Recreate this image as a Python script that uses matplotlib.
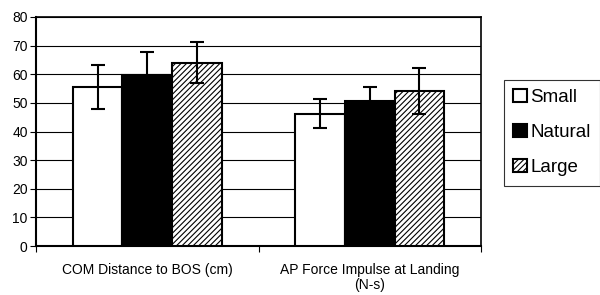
import numpy as np
import matplotlib.pyplot as plt

plt.rcParams['font.family'] = ['Liberation Sans', 'DejaVu Sans']

# data
categories = ['COM Distance to BOS (cm)', 'AP Force Impulse at Landing\n(N-s)']
series = ['Small', 'Natural', 'Large']
means = {
    'Small': [55.6, 46.2],
    'Natural': [59.6, 50.6],
    'Large': [64.1, 54.1],
}
errors = {
    'Small': [7.8, 5.1],
    'Natural': [8.2, 5.0],
    'Large': [7.2, 8.1],
}
yticks = [0, 10, 20, 30, 40, 50, 60, 70, 80]

fig = plt.figure(figsize=(6.0, 2.95), dpi=100)
ax = fig.add_axes([36 / 600, 1 - 246 / 295, 445 / 600, 229 / 295])

styles = {
    'Small': dict(color='white', hatch=None),
    'Natural': dict(color='black', hatch=None),
    'Large': dict(color='white', hatch='//////'),
}

x = np.arange(len(categories))
width = 0.223
plt.rcParams['hatch.linewidth'] = 0.8
for i, name in enumerate(series):
    pos = x + (i - 1) * width
    ax.bar(pos, means[name], width, color=styles[name]['color'],
           hatch=styles[name]['hatch'], edgecolor='black', linewidth=1.5,
           label=name, zorder=3)
    ax.errorbar(pos, means[name], yerr=errors[name], fmt='none',
                ecolor='black', elinewidth=1.5, capsize=5, capthick=1.5,
                zorder=4)

ax.set_xlim(-0.5, 1.5)
ax.set_ylim(0, 80)
ax.set_yticks(yticks)
ax.yaxis.grid(True, color='black', linewidth=0.8, zorder=0)
ax.set_axisbelow(True)

# category labels, ticks at the boundaries
ax.set_xticks([-0.5, 0.5, 1.5])
ax.set_xticklabels([])
ax.set_xticks(x, minor=True)
ax.set_xticklabels(categories, minor=True, fontsize=10, linespacing=1.1)
ax.tick_params(axis='x', which='minor', length=0, pad=12)
ax.tick_params(axis='x', which='major', length=4, direction='out')
ax.tick_params(axis='y', labelsize=10, length=4, direction='out', pad=2)

for side in ['left', 'bottom']:
    ax.spines[side].set_linewidth(1.5)
for side in ['top', 'right']:
    ax.spines[side].set_linewidth(1.2)

leg = ax.legend(loc='upper left', bbox_to_anchor=(504 / 600, 1 - 80 / 295),
                bbox_transform=fig.transFigure, fontsize=13.5, frameon=True,
                fancybox=False, edgecolor='black', handlelength=0.7,
                handleheight=0.7, handletextpad=0.2, borderpad=0.5,
                labelspacing=0.95, borderaxespad=0)
leg.get_frame().set_linewidth(0.8)

fig.savefig('out.png', dpi=100)
